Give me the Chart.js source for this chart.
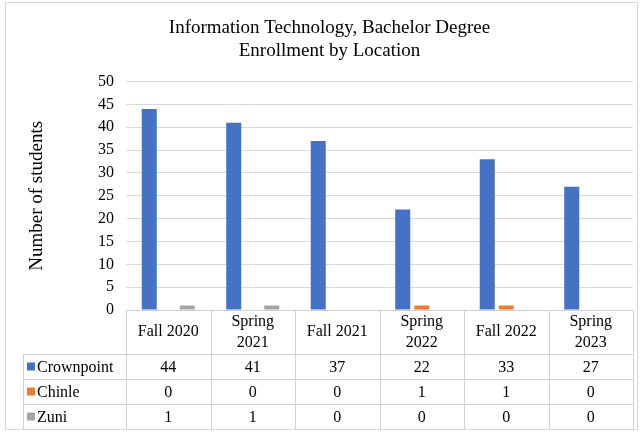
<!DOCTYPE html>
<html>
<head>
<meta charset="utf-8">
<script src="https://cdn.jsdelivr.net/npm/chart.js@4/dist/chart.umd.min.js"></script>
<style>
    body { margin: 0; background: #fff; }
    canvas { display: block; }
</style>
</head>
<body>
<canvas id="chart" width="641" height="433"></canvas>
<script>
// Data
const categories = [["Fall 2020"], ["Spring", "2021"], ["Fall 2021"], ["Spring", "2022"], ["Fall 2022"], ["Spring", "2023"]];
const seriesNames = ["Crownpoint", "Chinle", "Zuni"];
const crownpoint = [44, 41, 37, 22, 33, 27];
const chinle = [0, 0, 0, 1, 1, 0];
const zuni = [1, 1, 0, 0, 0, 0];
const yTicks = [0, 5, 10, 15, 20, 25, 30, 35, 40, 45, 50];

const colors = ["#4472C4", "#ED7D31", "#A5A5A5"];
const FONT = "'Liberation Serif', 'Times New Roman', serif";

// Data table under the plot, laid out from the x scale
const dataTable = {
    id: "dataTable",
    afterDraw(chart) {
        const c = chart.ctx;
        const x = chart.scales.x;
        const area = chart.chartArea;
        const n = categories.length;
        const w = (x.right - x.left) / n;
        const top = area.bottom;
        const headH = 44, rowH = 25;
        const labelLeft = 23;
        const bottom = top + headH + rowH * 3;

        c.save();
        c.strokeStyle = "#d0d0d0";
        c.lineWidth = 1;
        c.beginPath();
        c.moveTo(x.left, top + 0.5); c.lineTo(x.right, top + 0.5);
        for (let r = 0; r <= 3; r++) {
            const y = Math.round(top + headH + r * rowH) + 0.5;
            c.moveTo(labelLeft, y); c.lineTo(x.right, y);
        }
        for (let i = 0; i <= n; i++) {
            const xx = Math.round(x.left + i * w) + 0.5;
            c.moveTo(xx, top); c.lineTo(xx, bottom);
        }
        c.moveTo(labelLeft + 0.5, top + headH); c.lineTo(labelLeft + 0.5, bottom);
        c.stroke();

        c.fillStyle = "#000";
        c.font = "16px " + FONT;
        c.textAlign = "center";
        c.textBaseline = "middle";
        categories.forEach((lab, i) => {
            const cx = x.getPixelForValue(i);
            const lh = 21;
            const y0 = top + headH / 2 - (lab.length - 1) * lh / 2;
            lab.forEach((line, k) => c.fillText(line, cx, y0 + k * lh));
        });

        const rows = [crownpoint, chinle, zuni];
        rows.forEach((vals, r) => {
            const cy = top + headH + r * rowH + rowH / 2 + 1;
            c.fillStyle = colors[r];
            c.fillRect(27, cy - 5, 8, 8);
            c.fillStyle = "#000";
            c.textAlign = "left";
            c.fillText(seriesNames[r], 37, cy);
            c.textAlign = "center";
            vals.forEach((v, i) => c.fillText(String(v), x.getPixelForValue(i), cy));
        });

        // outer frame
        c.strokeStyle = "#d9d9d9";
        c.strokeRect(5.5, 2.5, 632, 427);
        c.restore();
    }
};

new Chart(document.getElementById("chart"), {
    type: "bar",
    data: {
        labels: categories,
        datasets: [
            { label: seriesNames[0], data: crownpoint, backgroundColor: colors[0] },
            { label: seriesNames[1], data: chinle, backgroundColor: colors[1] },
            { label: seriesNames[2], data: zuni, backgroundColor: colors[2] }
        ]
    },
    options: {
        responsive: false,
        animation: false,
        categoryPercentage: 0.675,
        barPercentage: 0.79,
        layout: { padding: { left: 26, right: 8, top: 0, bottom: 115 } },
        plugins: {
            legend: { display: false },
            tooltip: { enabled: false },
            title: {
                display: true,
                text: ["Information Technology, Bachelor Degree", "Enrollment by Location"],
                color: "#000",
                font: { family: FONT, size: 19, weight: "normal", lineHeight: 1.2 },
                padding: { top: 17, bottom: 19 }
            }
        },
        scales: {
            x: {
                ticks: { display: false },
                grid: { display: false },
                border: { display: false }
            },
            y: {
                min: 0,
                max: 50,
                afterBuildTicks(scale) { scale.ticks = yTicks.map(v => ({ value: v })); },
                afterFit(scale) { scale.width = 100; },
                ticks: { color: "#000", font: { family: FONT, size: 16 }, padding: 12 },
                grid: { color: "#d9d9d9", drawTicks: false },
                border: { display: false },
                title: {
                    display: true,
                    text: "Number of students",
                    color: "#000",
                    font: { family: FONT, size: 19 },
                    padding: { top: 0, bottom: 0 }
                }
            }
        }
    },
    plugins: [dataTable]
});
</script>
</body>
</html>
